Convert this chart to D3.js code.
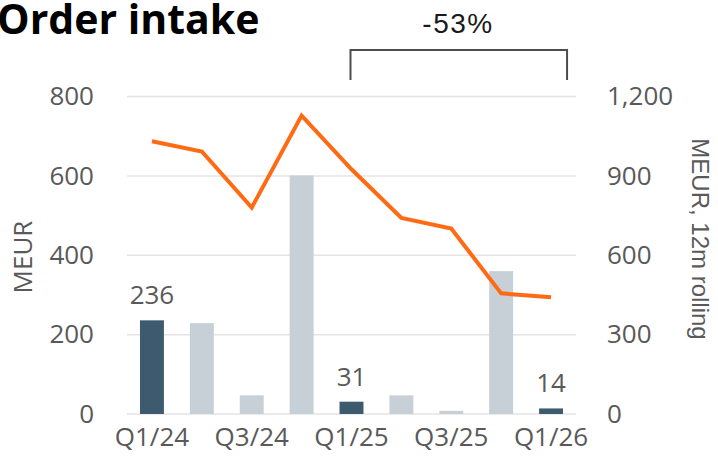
<!DOCTYPE html>
<html>
<head>
<meta charset="utf-8">
<script src="https://cdn.jsdelivr.net/npm/d3@7"></script>
<style>
  body { margin: 0; background: #fff; }
  svg { display: block; font-family: "Open Sans", sans-serif; }
</style>
</head>
<body>
<div id="app"></div>
<script>
const quarters = ["Q1/24", "Q2/24", "Q3/24", "Q4/24", "Q1/25", "Q2/25", "Q3/25", "Q4/25", "Q1/26"];
const orderIntake = [236, 229, 47, 601, 31, 47, 8, 360, 14];
const highlighted = [true, false, false, false, true, false, false, false, true];
const rolling12m = [1031, 992, 780, 1128, 925, 741, 701, 456, 441];
const leftTicks = [0, 200, 400, 600, 800];
const rightTicks = [0, 300, 600, 900, 1200];
const shownQuarters = ["Q1/24", "Q3/24", "Q1/25", "Q3/25", "Q1/26"];

const width = 718, height = 463;
const plotLeft = 127, plotRight = 576, plotTop = 96.5, plotBottom = 414;
const grey = "#595959";

const svg = d3.create("svg")
  .attr("width", width)
  .attr("height", height)
  .attr("viewBox", [0, 0, width, height]);

const x = d3.scaleBand().domain(quarters).range([plotLeft, plotRight]).paddingInner(0.52).paddingOuter(0.26);
const y = d3.scaleLinear().domain([0, 800]).range([plotBottom, plotTop]);
const y2 = d3.scaleLinear().domain([0, 1200]).range([plotBottom, plotTop]);

// gridlines
svg.append("g")
  .selectAll("line")
  .data(leftTicks)
  .join("line")
  .attr("x1", plotLeft)
  .attr("x2", plotRight)
  .attr("y1", d => y(d))
  .attr("y2", d => y(d))
  .attr("stroke", "#e4e4e4")
  .attr("stroke-width", 1.5);

// left axis
const yAxis = svg.append("g")
  .attr("transform", `translate(${plotLeft},0)`)
  .call(d3.axisLeft(y).tickValues(leftTicks).tickSize(0).tickPadding(33).tickFormat(d3.format(",")));
yAxis.select(".domain").remove();
yAxis.selectAll("text").attr("font-size", 26).attr("fill", grey).attr("font-family", "Open Sans");

// right axis
const y2Axis = svg.append("g")
  .attr("transform", `translate(${plotRight},0)`)
  .call(d3.axisRight(y2).tickValues(rightTicks).tickSize(0).tickPadding(31).tickFormat(d3.format(",")));
y2Axis.select(".domain").remove();
y2Axis.selectAll("text").attr("font-size", 26).attr("fill", grey).attr("font-family", "Open Sans");

// bottom axis
const xAxis = svg.append("g")
  .attr("transform", `translate(0,${plotBottom})`)
  .call(d3.axisBottom(x).tickValues(shownQuarters).tickSize(0).tickPadding(14));
xAxis.select(".domain").remove();
xAxis.selectAll("text").attr("font-size", 26).attr("fill", grey).attr("font-family", "Open Sans");

// bars
svg.append("g")
  .selectAll("rect")
  .data(quarters)
  .join("rect")
  .attr("x", d => x(d))
  .attr("y", (d, i) => y(orderIntake[i]))
  .attr("width", x.bandwidth())
  .attr("height", (d, i) => y(0) - y(orderIntake[i]))
  .attr("fill", (d, i) => highlighted[i] ? "#3e5a6e" : "#c8d0d7");

// value labels on highlighted bars
svg.append("g")
  .selectAll("text")
  .data(quarters.filter((d, i) => highlighted[i]))
  .join("text")
  .attr("x", d => x(d) + x.bandwidth() / 2)
  .attr("y", d => y(orderIntake[quarters.indexOf(d)]) - 16)
  .attr("text-anchor", "middle")
  .attr("font-size", 26)
  .attr("fill", grey)
  .text(d => orderIntake[quarters.indexOf(d)]);

// rolling line
const line = d3.line()
  .x((d, i) => x(quarters[i]) + x.bandwidth() / 2)
  .y(d => y2(d));

svg.append("path")
  .attr("d", line(rolling12m))
  .attr("fill", "none")
  .attr("stroke", "#ff6a13")
  .attr("stroke-width", 4);

// axis titles
svg.append("text")
  .attr("transform", "translate(32,257) rotate(-90)")
  .attr("text-anchor", "middle")
  .attr("font-size", 26)
  .attr("fill", grey)
  .text("MEUR");

svg.append("text")
  .attr("transform", "translate(692,239) rotate(90)")
  .attr("text-anchor", "middle")
  .attr("font-family", "Liberation Sans, Arial, sans-serif")
  .attr("font-size", 24)
  .attr("fill", grey)
  .text("MEUR, 12m rolling");

// title
svg.append("text")
  .attr("x", -3)
  .attr("y", 34)
  .attr("font-size", 41)
  .attr("font-weight", 700)
  .attr("fill", "#000")
  .text("Order intake");

// bracket over last 5 quarters
const bx1 = x("Q1/25") + x.bandwidth() / 2 - 1;
const bx2 = x("Q1/26") + x.bandwidth() / 2 + 16;
const bracket = d3.path();
bracket.moveTo(bx1, 80);
bracket.lineTo(bx1, 50);
bracket.lineTo(bx2, 50);
bracket.lineTo(bx2, 80);
svg.append("path")
  .attr("d", bracket.toString())
  .attr("fill", "none")
  .attr("stroke", "#4d4d4d")
  .attr("stroke-width", 2);

svg.append("text")
  .attr("x", 458)
  .attr("y", 33)
  .attr("text-anchor", "middle")
  .attr("font-family", "Liberation Sans, Arial, sans-serif")
  .attr("font-size", 28)
  .attr("letter-spacing", 1.5)
  .attr("fill", "#1a1a1a")
  .text("-53%");

document.getElementById("app").append(svg.node());
</script>
</body>
</html>
